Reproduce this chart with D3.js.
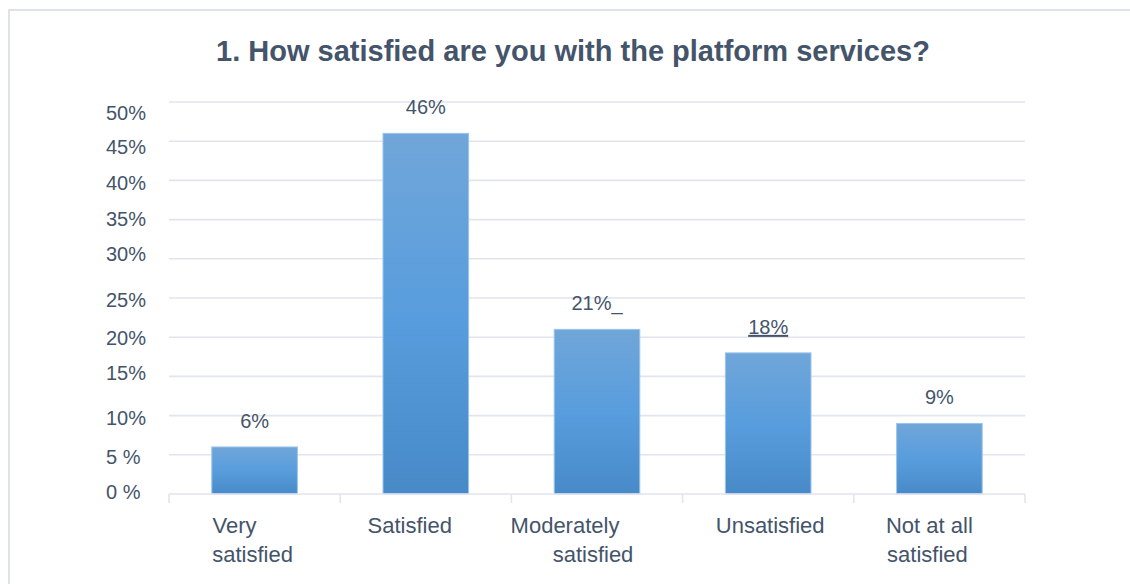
<!DOCTYPE html>
<html>
<head>
<meta charset="utf-8">
<script src="https://cdn.jsdelivr.net/npm/d3@7/dist/d3.min.js"></script>
<style>
  html, body { margin: 0; padding: 0; background: #fff; }
  svg { display: block; font-family: "Liberation Sans", Arial, sans-serif; }
</style>
</head>
<body>
<svg id="chart" width="1130" height="584"></svg>
<script>
// Survey question 1: satisfaction with the platform services
const categories = ["Very satisfied", "Satisfied", "Moderately satisfied", "Unsatisfied", "Not at all satisfied"];
const categoryLines = [["Very", "satisfied"], ["Satisfied"], ["Moderately", "satisfied"], ["Unsatisfied"], ["Not at all", "satisfied"]];
const shares = [6, 46, 21, 18, 9];
const yTickValues = [0, 5, 10, 15, 20, 25, 30, 35, 40, 45, 50];
const yTickLabels = ["0 %", "5 %", "10%", "15%", "20%", "25%", "30%", "35%", "40%", "45%", "50%"];
const title = "1. How satisfied are you with the platform services?";

// horizontal nudges of each category label line, relative to the band centre
const labelNudge = [[-20, -2], [-16], [-32, -4], [2], [-10, -12]];
// vertical nudges of the y tick labels, relative to their gridline
const yLabelNudge = [-2, 2, 2, -3, 1, 2, -5, -1, 3, 6, 11];

const textColor = "#44546a";
const gridColor = "#e2e5ee";

const svg = d3.select("#chart");
const margin = { left: 169, right: 105, top: 102, bottom: 90 };
const W = 1130, H = 584;

// outer frame
svg.append("path")
  .attr("d", `M9,${H} V10 H${W}`)
  .attr("fill", "none")
  .attr("stroke", "#dde2ec")
  .attr("stroke-width", 2);

const x = d3.scaleBand()
  .domain(categories)
  .range([margin.left, W - margin.right])
  .paddingInner(0.5)
  .paddingOuter(0.25);

const y = d3.scaleLinear()
  .domain([0, 50])
  .range([H - margin.bottom, margin.top]);

// bar gradient
const defs = svg.append("defs");
const grad = defs.append("linearGradient")
  .attr("id", "barFill")
  .attr("x1", 0).attr("y1", 0).attr("x2", 0).attr("y2", 1);
grad.append("stop").attr("offset", "0%").attr("stop-color", "#70a6d9");
grad.append("stop").attr("offset", "50%").attr("stop-color", "#589ddd");
grad.append("stop").attr("offset", "100%").attr("stop-color", "#488ac8");

// gridlines
svg.append("g")
  .selectAll("line")
  .data(yTickValues.filter(v => v > 0))
  .join("line")
  .attr("x1", margin.left)
  .attr("x2", W - margin.right)
  .attr("y1", d => y(d))
  .attr("y2", d => y(d))
  .attr("stroke", gridColor)
  .attr("stroke-width", 1.6);

// y tick labels
svg.append("g")
  .selectAll("text")
  .data(yTickValues)
  .join("text")
  .attr("x", 106)
  .attr("y", (d, i) => y(d) + yLabelNudge[i])
  .attr("dominant-baseline", "central")
  .attr("fill", textColor)
  .attr("font-size", 20)
  .text((d, i) => yTickLabels[i]);

// bars
svg.append("g")
  .selectAll("rect")
  .data(shares)
  .join("rect")
  .attr("x", (d, i) => x(categories[i]))
  .attr("y", d => y(d))
  .attr("width", x.bandwidth())
  .attr("height", d => y(0) - y(d))
  .attr("fill", "url(#barFill)")
  .attr("stroke", "#9cc4ea")
  .attr("stroke-width", 1);

// x axis with category boundary ticks
const step = x.step();
const xAxis = svg.append("g");
xAxis.append("line")
  .attr("x1", margin.left).attr("x2", W - margin.right)
  .attr("y1", y(0)).attr("y2", y(0))
  .attr("stroke", gridColor).attr("stroke-width", 1.6);
xAxis.selectAll("line.tick")
  .data(d3.range(categories.length + 1))
  .join("line")
  .attr("class", "tick")
  .attr("x1", i => margin.left + i * step)
  .attr("x2", i => margin.left + i * step)
  .attr("y1", y(0))
  .attr("y2", y(0) + 9)
  .attr("stroke", gridColor)
  .attr("stroke-width", 1.6);

// category labels
const catG = svg.append("g");
categories.forEach((c, i) => {
  const cx = x(c) + x.bandwidth() / 2;
  categoryLines[i].forEach((line, j) => {
    catG.append("text")
      .attr("x", cx + labelNudge[i][j])
      .attr("y", 533 + j * 29)
      .attr("text-anchor", "middle")
      .attr("fill", textColor)
      .attr("font-size", 22)
      .text(line);
  });
});

// value labels
const valG = svg.append("g");
shares.forEach((v, i) => {
  const cx = x(categories[i]) + x.bandwidth() / 2;
  const t = valG.append("text")
    .attr("x", cx)
    .attr("y", y(v) - 19)
    .attr("text-anchor", "middle")
    .attr("fill", textColor)
    .attr("font-size", 20)
    .text(v + "%");
  if (v === 18) t.attr("text-decoration", "underline");
  if (v === 21) t.append("tspan").text("_");
});

// title
svg.append("text")
  .attr("x", 573)
  .attr("y", 61)
  .attr("text-anchor", "middle")
  .attr("fill", textColor)
  .attr("font-size", 29)
  .attr("font-weight", "bold")
  .text(title);
</script>
</body>
</html>
